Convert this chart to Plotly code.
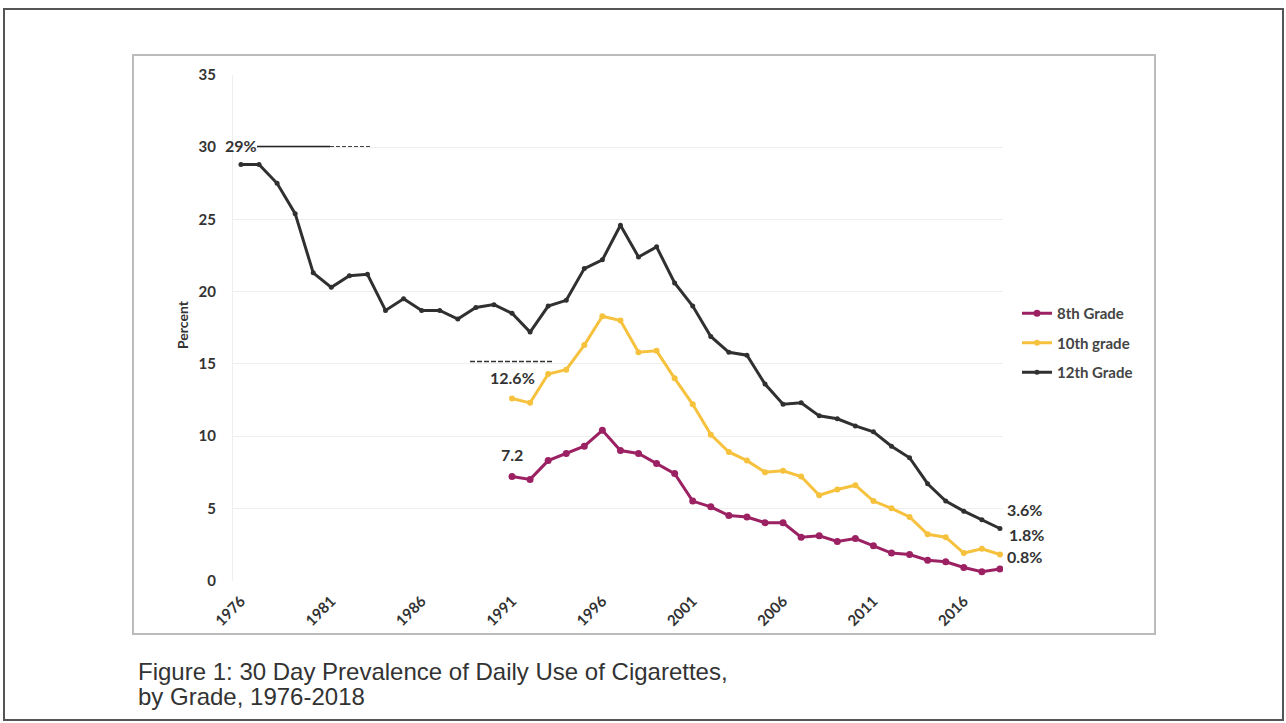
import plotly.graph_objects as go

# Survey years
years_12 = list(range(1976, 2019))
years_810 = list(range(1991, 2019))

# Percent of students smoking cigarettes daily in the past 30 days
grade12 = [28.8, 28.8, 27.5, 25.4, 21.3, 20.3, 21.1, 21.2, 18.7, 19.5,
           18.7, 18.7, 18.1, 18.9, 19.1, 18.5, 17.2, 19.0, 19.4, 21.6,
           22.2, 24.6, 22.4, 23.1, 20.6, 19.0, 16.9, 15.8, 15.6, 13.6,
           12.2, 12.3, 11.4, 11.2, 10.7, 10.3, 9.3, 8.5, 6.7, 5.5,
           4.8, 4.2, 3.6]
grade10 = [12.6, 12.3, 14.3, 14.6, 16.3, 18.3, 18.0, 15.8, 15.9, 14.0,
           12.2, 10.1, 8.9, 8.3, 7.5, 7.6, 7.2, 5.9, 6.3, 6.6,
           5.5, 5.0, 4.4, 3.2, 3.0, 1.9, 2.2, 1.8]
grade8 = [7.2, 7.0, 8.3, 8.8, 9.3, 10.4, 9.0, 8.8, 8.1, 7.4,
          5.5, 5.1, 4.5, 4.4, 4.0, 4.0, 3.0, 3.1, 2.7, 2.9,
          2.4, 1.9, 1.8, 1.4, 1.3, 0.9, 0.6, 0.8]

x_ticks = list(range(1976, 2017, 5))
y_ticks = list(range(0, 36, 5))

W, H = 1286, 723
MAGENTA = "#9C2163"
YELLOW = "#F6C23E"
DARK = "#303030"
TICK_FONT = dict(family="Lato", size=15, color="#333333", weight="bold")
CALLOUT_FONT = dict(family="Lato", size=16, color="#333333", weight="bold")


def px(v):
    return v / W


def py(v):
    return 1 - v / H


fig = go.Figure()
fig.add_trace(go.Scatter(
    x=years_810, y=grade8, name="8th Grade", mode="lines+markers",
    line=dict(color=MAGENTA, width=3), marker=dict(size=7, color=MAGENTA),
    legendgroup="g8"))
fig.add_trace(go.Scatter(
    x=years_810, y=grade10, name="10th grade", mode="lines+markers",
    line=dict(color=YELLOW, width=3), marker=dict(size=6, color=YELLOW),
    legendgroup="g10"))
fig.add_trace(go.Scatter(
    x=years_12, y=grade12, name="12th Grade", mode="lines+markers",
    line=dict(color=DARK, width=3), marker=dict(size=5, color=DARK),
    legendgroup="g12"))

# Value callouts at the start and end of each series
callouts = [
    (years_12[0], grade12[0], "29%", "center", 0, 19),
    (years_810[0], grade10[0], "12.6%", "center", 0, 21),
    (years_810[0], grade8[0], "7.2", "center", 0, 22),
    (years_12[-1], grade12[-1], "3.6%", "left", 5, 19),
    (years_810[-1], grade10[-1], "1.8%", "left", 7, 20),
    (years_810[-1], grade8[-1], "0.8%", "left", 5, 12),
]
annotations = [
    dict(x=x, y=y, text=t, showarrow=False, xanchor=xa, yanchor="middle",
         xshift=xs, yshift=ys, font=CALLOUT_FONT)
    for x, y, t, xa, xs, ys in callouts
]
annotations.append(dict(
    x=px(183), y=py(325), xref="paper", yref="paper", text="Percent",
    textangle=-90, showarrow=False, xanchor="center", yanchor="middle",
    font=dict(family="Lato", size=14, color="#333333", weight="bold")))

# Figure caption, one line per annotation
caption_lines = ["Figure 1: 30 Day Prevalence of Daily Use of Cigarettes,",
                 "by Grade, 1976-2018"]
for text, yc in zip(caption_lines, [671, 696]):
    annotations.append(dict(
        x=px(136), y=py(yc), xref="paper", yref="paper", text=text,
        showarrow=False, xanchor="left", yanchor="middle", align="left",
        font=dict(family="Liberation Sans", size=24, color="#333333")))

shapes = [
    # outer page frame
    dict(type="rect", xref="paper", yref="paper", x0=px(4), x1=px(1283),
         y0=py(720), y1=py(9), line=dict(color="#555555", width=2)),
    # chart frame
    dict(type="rect", xref="paper", yref="paper", x0=px(133), x1=px(1155),
         y0=py(634), y1=py(55), line=dict(color="#BBBBBB", width=2)),
    # leader strokes beside the first callouts
    dict(type="line", xref="paper", yref="paper", x0=px(257), x1=px(330),
         y0=py(146.5), y1=py(146.5), line=dict(color="#222222", width=1.5)),
    dict(type="line", xref="paper", yref="paper", x0=px(330), x1=px(372),
         y0=py(146.5), y1=py(146.5), line=dict(color="#444444", width=1.2, dash="4px,2px")),
    dict(type="line", xref="paper", yref="paper", x0=px(470), x1=px(552),
         y0=py(361.5), y1=py(361.5), line=dict(color="#333333", width=1.5, dash="5px,2px")),
]

fig.update_layout(
    width=W, height=H, margin=dict(l=0, r=0, t=0, b=0, pad=0, autoexpand=False),
    paper_bgcolor="white", plot_bgcolor="white",
    showlegend=True,
    legend=dict(x=px(1017), y=py(297), xanchor="left", yanchor="top",
                traceorder="grouped", tracegroupgap=7, itemwidth=30,
                font=dict(family="Lato", size=15, color="#444444", weight="bold"),
                bgcolor="rgba(0,0,0,0)"),
    xaxis=dict(domain=[px(233), px(1003)], range=[1975.56, 2018.17],
               tickvals=x_ticks, tickangle=-45, showgrid=False, zeroline=False,
               showline=False, ticks="", ticklabelstandoff=8, automargin=False,
               tickfont=TICK_FONT),
    yaxis=dict(domain=[py(580.5), py(75)], range=[0, 35], tickvals=y_ticks,
               showgrid=True, gridcolor="#EEEEEE", gridwidth=1, zeroline=False,
               showline=True, linecolor="#EEEEEE", ticks="", ticklabelstandoff=13,
               automargin=False, tickfont=TICK_FONT),
    annotations=annotations, shapes=shapes,
)

fig.write_html("out.html")
